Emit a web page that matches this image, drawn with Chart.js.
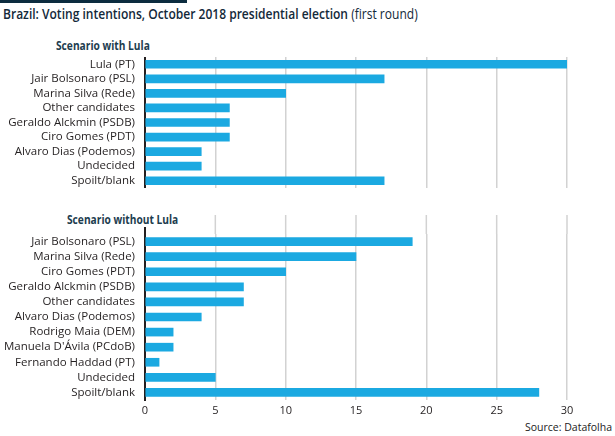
<!DOCTYPE html>
<html lang="en">
<head>
  <meta charset="UTF-8">
  <title>Brazil: Voting intentions</title>
  <script src="https://cdn.jsdelivr.net/npm/chart.js"></script>
  <style>
    * { margin: 0; padding: 0; box-sizing: border-box; }
    body { width: 615px; height: 436px; background: #fff; position: relative; overflow: hidden; font-family: "Open Sans", Arial, sans-serif; }
    .topbar { position: absolute; left: 0; top: 0; width: 187px; height: 3px; background: #0c2c3f; }
    .title { position: absolute; left: 3px; top: 4px; font-size: 14px; color: #13293a; white-space: nowrap; transform-origin: left top; transform: scaleX(0.86); }
    .title b { font-weight: 600; }
    .sub { position: absolute; font-size: 12px; font-weight: 700; color: #1d3d4f; white-space: nowrap; transform-origin: left top; transform: scaleX(0.85); }
    .source { position: absolute; right: 3px; top: 420px; font-size: 10.5px; color: #222; white-space: nowrap; }
    canvas { position: absolute; left: 0; }
  </style>
</head>
<body>
  <div class="topbar"></div>
  <div class="title"><b>Brazil: Voting intentions, October 2018 presidential election</b> (first round)</div>
  <div class="sub" style="left:56px; top:37px;">Scenario with Lula</div>
  <div class="sub" style="left:67px; top:211px;">Scenario without Lula</div>
  <canvas id="withLula" style="top:57px;" width="615" height="131"></canvas>
  <canvas id="withoutLula" style="top:200px;" width="615" height="220"></canvas>
  <div class="source">Source: Datafolha</div>

  <script>
    const withLabels = ['Lula (PT)', 'Jair Bolsonaro (PSL)', 'Marina Silva (Rede)', 'Other candidates',
      'Geraldo Alckmin (PSDB)', 'Ciro Gomes (PDT)', 'Alvaro Dias (Podemos)', 'Undecided', 'Spoilt/blank'];
    const withValues = [30, 17, 10, 6, 6, 6, 4, 4, 17];

    const withoutLabels = ['Jair Bolsonaro (PSL)', 'Marina Silva (Rede)', 'Ciro Gomes (PDT)', 'Geraldo Alckmin (PSDB)',
      'Other candidates', 'Alvaro Dias (Podemos)', 'Rodrigo Maia (DEM)', "Manuela D'Ávila (PCdoB)",
      'Fernando Haddad (PT)', 'Undecided', 'Spoilt/blank'];
    const withoutValues = [19, 15, 10, 7, 7, 4, 2, 2, 1, 5, 28];

    const xTicks = [0, 5, 10, 15, 20, 25, 30];

    const barColor = '#1ba9e1';
    const gridColor = '#d2d2d2';
    const axisColor = '#231f20';

    Chart.defaults.font.family = '"Open Sans", Arial, sans-serif';
    Chart.defaults.color = '#231f20';

    // draws grid lines and the axis line a bit above the chart area (bottom panel)
    const extendUp = {
      id: 'extendUp',
      beforeDatasetsDraw(chart, args, opts) {
        if (!opts.gridTop) return;
        const { ctx, chartArea, scales } = chart;
        ctx.save();
        ctx.strokeStyle = gridColor;
        ctx.lineWidth = 1.5;
        xTicks.forEach(v => {
          if (v === 0) return;
          const x = scales.x.getPixelForValue(v);
          ctx.beginPath();
          ctx.moveTo(x, opts.gridTop);
          ctx.lineTo(x, chartArea.top);
          ctx.stroke();
        });
        const x0 = scales.x.getPixelForValue(0);
        ctx.strokeStyle = axisColor;
        ctx.lineWidth = 2;
        ctx.beginPath();
        ctx.moveTo(x0, opts.axisTop);
        ctx.lineTo(x0, chartArea.top);
        ctx.stroke();
        ctx.restore();
      }
    };

    function makeChart(id, labels, values, showTicks, padTop, gridTop, axisTop) {
      return new Chart(document.getElementById(id), {
        type: 'bar',
        data: {
          labels: labels,
          datasets: [{
            data: values,
            backgroundColor: barColor,
            borderWidth: 0,
            barThickness: 8
          }]
        },
        plugins: [extendUp],
        options: {
          indexAxis: 'y',
          responsive: false,
          animation: false,
          layout: { padding: { top: padTop, right: 48, left: 0, bottom: 0 } },
          plugins: {
            legend: { display: false },
            tooltip: { enabled: false },
            extendUp: { gridTop: gridTop, axisTop: axisTop }
          },
          scales: {
            x: {
              min: 0,
              max: 30,
              afterBuildTicks: s => { s.ticks = xTicks.map(v => ({ value: v })); },
              afterFit: s => { s.height = showTicks ? 20 : 0; s.paddingLeft = 0; s.paddingRight = 0; },
              grid: { color: gridColor, lineWidth: 1.5, drawTicks: false },
              border: { display: false },
              ticks: { display: showTicks, padding: 4, font: { size: 11 }, color: '#231f20' }
            },
            y: {
              afterFit: s => { s.width = 145; s.paddingTop = 0; s.paddingBottom = 0; },
              grid: { display: false, drawTicks: false },
              border: { display: true, color: axisColor, width: 2 },
              ticks: { padding: 10, font: { size: 11.5 }, color: '#231f20', autoSkip: false }
            }
          }
        }
      });
    }

    makeChart('withLula', withLabels, withValues, false, 0, 0, 0);
    // bottom panel: chart area from ~234 to 400 in page coordinates (canvas starts at 200)
    makeChart('withoutLula', withoutLabels, withoutValues, true, 34, 15, 27);
  </script>
</body>
</html>
